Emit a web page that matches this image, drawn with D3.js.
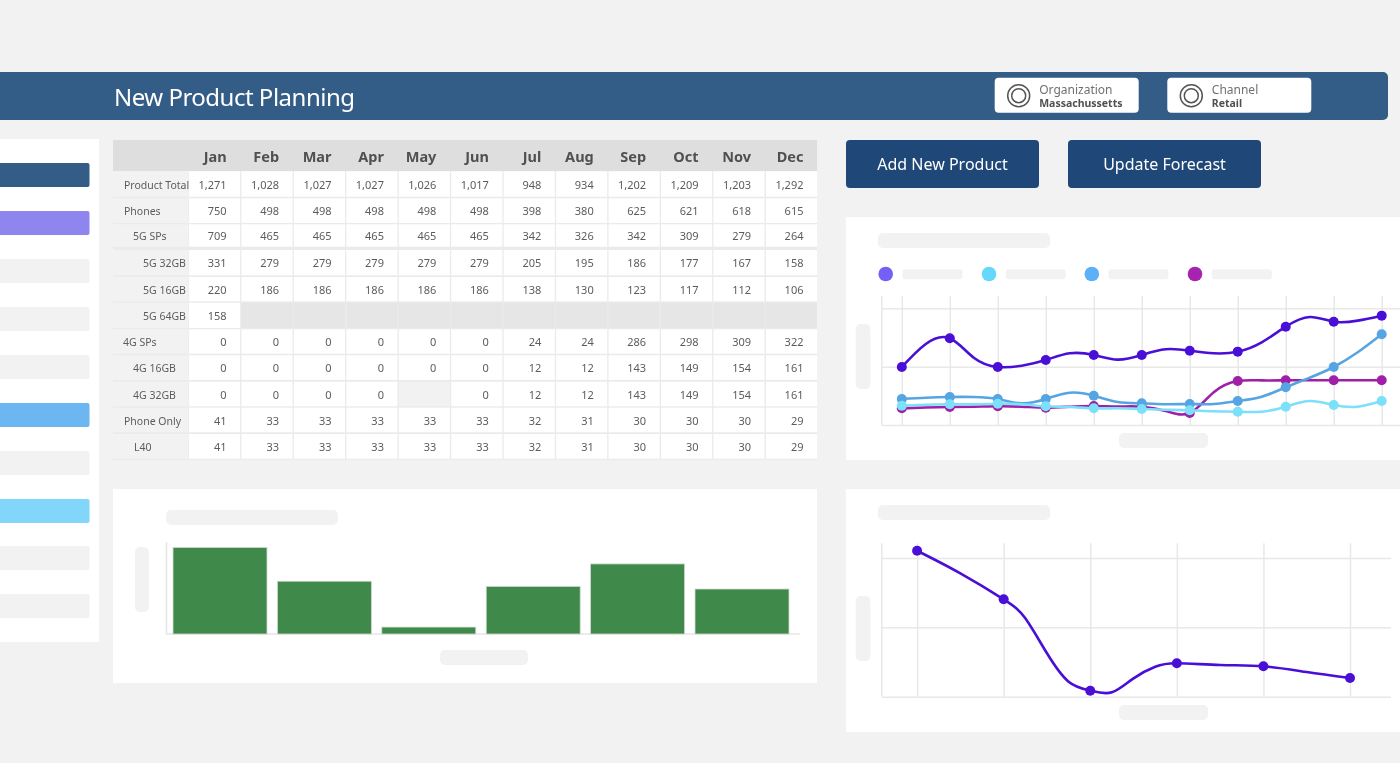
<!DOCTYPE html>
<html><head><meta charset="utf-8">
<script src="https://cdn.jsdelivr.net/npm/d3@7"></script>
<style>
html,body{margin:0;padding:0;background:#f2f2f2;overflow:hidden}
svg{display:block;filter:blur(.4px)}
text{font-family:"Noto Sans",sans-serif}
.grid line{stroke:#e8e8e8;stroke-width:1.5}
.grid path{display:none}
</style></head><body>
<svg id="c" width="1400" height="763"></svg>
<script>
// ---------- data ----------
const title = "New Product Planning";
const filters = [["Organization","Massachussetts"],["Channel","Retail"]];
const buttons = ["Add New Product","Update Forecast"];
const months = ["Jan","Feb","Mar","Apr","May","Jun","Jul","Aug","Sep","Oct","Nov","Dec"];
const rowLabels = ["Product Total","Phones","5G SPs","5G 32GB","5G 16GB","5G 64GB","4G SPs","4G 16GB","4G 32GB","Phone Only","L40"];
const productTotal = ["1,271","1,028","1,027","1,027","1,026","1,017","948","934","1,202","1,209","1,203","1,292"];
const phones  = [750,498,498,498,498,498,398,380,625,621,618,615];
const sps5g   = [709,465,465,465,465,465,342,326,342,309,279,264];
const gb32_5g = [331,279,279,279,279,279,205,195,186,177,167,158];
const gb16_5g = [220,186,186,186,186,186,138,130,123,117,112,106];
const gb64_5g = [158,null,null,null,null,null,null,null,null,null,null,null];
const sps4g   = [0,0,0,0,0,0,24,24,286,298,309,322];
const gb16_4g = [0,0,0,0,0,0,12,12,143,149,154,161];
const gb32_4g = [0,0,0,0,null,0,12,12,143,149,154,161];
const phoneOnly = [41,33,33,33,33,33,32,31,30,30,30,29];
const l40     = [41,33,33,33,33,33,32,31,30,30,30,29];
const tableRows = [productTotal,phones,sps5g,gb32_5g,gb16_5g,gb64_5g,sps4g,gb16_4g,gb32_4g,phoneOnly,l40];

const barCats = ["A","B","C","D","E","F"];
const barVals = [100,61,8,55,81,52];

// top line chart: values at the markers, and the curve as read halfway between markers
const purpleDots  = [994,1486,994,1114,1200,1200,1274,1257,1685,1771,1874];
const purpleMids  = [1389,1154,1017,1229,1120,1298,1229,1417,1851,1789];
const blueDots    = [446,480,446,446,502,372,360,411,646,994,1555];
const blueMids    = [468,480,372,554,394,355,360,485,811,1246];
const cyanDots    = [331,355,365,321,286,274,252,228,314,343,411];
const cyanMids    = [348,355,355,309,286,262,235,228,411,314];
const magentaDots = [286,309,321,297,326,314,206,754,766,766,766];
const magentaMids = [300,314,314,314,317,240,561,764,766,766];

// bottom line chart: marker values, and curve readings at fractional positions
const line2Dots = [2105,1404,87,482,438,270];
const line2CurvePos = [0,0.5,1,1.25,1.5,1.75,2,2.25,2.5,2.75,3,3.5,4,4.5,5];
const line2CurveVal = [2105,1779,1404,1130,626,216,87,63,265,432,482,457,438,356,270];

// ---------- layout ----------
const svg = d3.select("#c");
const GREY = "#f2f2f2";
function rect(g,x0,y0,x1,y1,fill,r){return g.append("rect").attr("x",x0).attr("y",y0).attr("width",x1-x0).attr("height",y1-y0).attr("fill",fill).attr("rx",r||0);}

// header
rect(svg,-10,72,1388,120,"#335c86",5);
svg.append("text").attr("x",114).attr("y",105.5).attr("fill","#fff").attr("font-size",24).attr("font-weight",400).attr("textLength",241).text(title);
[994.7,1167.3].forEach((x,i)=>{
  const g=svg.append("g");
  rect(g,x,77.7,x+144,112.7,"#fff",4);
  [11,7].forEach(r=>g.append("circle").attr("cx",x+24).attr("cy",95.7).attr("r",r).attr("fill","none").attr("stroke","#555").attr("stroke-width",1.5));
  g.append("text").attr("x",x+44.5).attr("y",93.5).attr("font-size",12).attr("fill","#707070").text(filters[i][0]);
  g.append("text").attr("x",x+44.5).attr("y",106.5).attr("font-size",10.5).attr("font-weight",700).attr("fill","#505050").text(filters[i][1]);
});
// buttons
[846,1068].forEach((x,i)=>{
  rect(svg,x,140,x+193,188,"#1f4878",4);
  svg.append("text").attr("x",x+96.5).attr("y",170).attr("text-anchor","middle").attr("fill","#fff").attr("font-size",16).text(buttons[i]);
});
// sidebar
rect(svg,-10,139,99,642,"#fff");
[[163,"#335c86"],[211,"#8e86ee"],[259,GREY],[307,GREY],[355,GREY],[403,"#6cb6f2"],[451,GREY],[499,"#82d6fa"],[546,GREY],[594,GREY]]
  .forEach(([y,c])=>rect(svg,-10,y,89.5,y+24,c,2));

// table
const rowTops=[171.3,198.3,224.3,250,277,302.7,329.3,355.3,381.7,407.7,434];
const rowBots=[196.7,223,246.7,275.3,301.3,328,353.7,380,406.3,432.3,458.7];
const indents=[124,124,133,143,143,143,123,133,133,124,134];
const colX=d3.scaleBand().domain(months).range([189,817]).paddingInner(0.025).paddingOuter(0);
rect(svg,113,140,817,171.3,"#dedede");
rect(svg,113,171.3,817,460,"#ebebeb");
months.forEach(m=>svg.append("text").attr("x",colX(m)+colX.bandwidth()-13.5).attr("y",162).attr("text-anchor","end").attr("font-size",14.5).attr("font-weight",700).attr("fill","#505050").text(m));
rowLabels.forEach((lab,i)=>{
  const y0=rowTops[i],y1=rowBots[i],base=(y0+y1)/2+4.5;
  rect(svg,113,y0,188.5,y1,GREY);
  svg.append("text").attr("x",indents[i]).attr("y",base).attr("font-size",10.5).attr("fill","#5c5c5c").text(lab);
  months.forEach((m,j)=>{
    const v=tableRows[i][j];
    const fill=v===null?(i===5?"#e6e6e6":GREY):"#fff";
    rect(svg,colX(m),y0,colX(m)+colX.bandwidth(),y1,fill);
    if(v!==null) svg.append("text").attr("x",colX(m)+colX.bandwidth()-13.5).attr("y",base).attr("text-anchor","end").attr("font-size",11).attr("fill","#5c5c5c").text(v);
  });
});

// bar card
rect(svg,113,489,817,683,"#fff");
rect(svg,166,510,338,525,GREY,5);
rect(svg,135,547,149,612,GREY,5);
rect(svg,440,650,528,665,GREY,5);
const bx=d3.scaleBand().domain(barCats).range([167.8,794.2]).paddingInner(0.1).paddingOuter(0.05);
const by=d3.scaleLinear().domain([0,100]).range([634,547.5]);
svg.append("line").attr("x1",166.5).attr("x2",166.5).attr("y1",542).attr("y2",634).attr("stroke","#e6e6e6").attr("stroke-width",1.5);
svg.append("line").attr("x1",166).attr("x2",800).attr("y1",634).attr("y2",634).attr("stroke","#e6e6e6").attr("stroke-width",1.5);
svg.selectAll(".bar").data(barVals).join("rect").attr("class","bar")
  .attr("x",(d,i)=>bx(barCats[i])).attr("width",bx.bandwidth())
  .attr("y",d=>by(d)).attr("height",d=>by(0)-by(d))
  .attr("fill","#3f8a4a").attr("stroke","#d0d8d0").attr("stroke-width",.8);

// line chart helper: s.curve = [[pos,value],...], s.dots = marker values
function lineChart(g,cfg){
  const n=cfg.series[0].dots.length-1;
  const x=d3.scaleLinear().domain([0,n]).range(cfg.xr);
  const y=d3.scaleLinear().domain([0,2000]).range(cfg.yr);
  g.append("g").attr("class","grid").attr("transform",`translate(0,${cfg.yr[0]})`)
    .call(d3.axisBottom(x).tickValues(d3.range(n+1)).tickSize(-(cfg.yr[0]-cfg.top)).tickFormat(""));
  g.append("g").attr("class","grid").attr("transform",`translate(${cfg.axisX},0)`)
    .call(d3.axisRight(y).tickValues([0,1000,2000]).tickSize(cfg.right-cfg.axisX).tickFormat(""));
  g.append("line").attr("x1",cfg.axisX).attr("x2",cfg.axisX).attr("y1",cfg.top).attr("y2",cfg.yr[0]).attr("stroke","#e8e8e8").attr("stroke-width",1.5);
  const ln=d3.line().x(d=>x(d[0])).y(d=>y(d[1])).curve(d3.curveNatural);
  cfg.series.forEach(s=>{
    g.append("path").attr("d",ln(s.curve)).attr("fill","none").attr("stroke",s.c).attr("stroke-width",2.6);
    g.selectAll(null).data(s.dots).join("circle").attr("cx",(d,i)=>x(i)).attr("cy",d=>y(d)).attr("r",5).attr("fill",s.c);
  });
}
const weave=(dots,mids)=>dots.flatMap((d,i)=>i<mids.length?[[i,d],[i+0.5,mids[i]]]:[[i,d]]);
// top line card
rect(svg,846,217,1410,460,"#fff");
rect(svg,878,233,1050,248,GREY,5);
[[885.7,"#7460f5",902.5],[989,"#66d8fc",1005.7],[1091.8,"#5bb0f8",1108.4],[1195,"#a822b0",1211.8]].forEach(([cx,c,lx])=>{
  svg.append("circle").attr("cx",cx).attr("cy",274).attr("r",7.3).attr("fill",c);
  rect(svg,lx,269.3,lx+60,279.3,GREY,3);
});
rect(svg,855.7,324,870.4,389,GREY,5);
rect(svg,1119,433,1208,448,GREY,5);
lineChart(svg.append("g"),{xr:[901.8,1381.7],yr:[425,308.3],top:296,axisX:881.8,right:1400,
  series:[{dots:magentaDots,curve:weave(magentaDots,magentaMids),c:"#a01fa8"},
          {dots:purpleDots,curve:weave(purpleDots,purpleMids),c:"#4a0fd6"},
          {dots:blueDots,curve:weave(blueDots,blueMids),c:"#56a5e3"},
          {dots:cyanDots,curve:weave(cyanDots,cyanMids),c:"#7be0f8"}]});
// bottom line card
rect(svg,846,489,1410,732,"#fff");
rect(svg,878,505,1050,520,GREY,5);
rect(svg,855.7,596,870.4,661,GREY,5);
rect(svg,1119,705,1208,720,GREY,5);
lineChart(svg.append("g"),{xr:[917.1,1350],yr:[696.7,558],top:543.3,axisX:881.8,right:1391,
  series:[{dots:line2Dots,curve:line2CurvePos.map((p,i)=>[p,line2CurveVal[i]]),c:"#4a0fd6"}]});
</script>
</body></html>
